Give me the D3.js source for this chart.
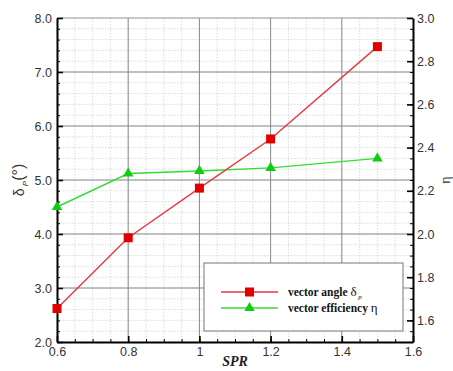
<!DOCTYPE html>
<html><head><meta charset="utf-8">
<script src="https://cdn.jsdelivr.net/npm/d3@7"></script>
<style>body{margin:0;background:#fff}svg{display:block}</style>
</head><body><svg id="c" width="453" height="371"></svg>
<script>
const spr = [0.6, 0.8, 1.0, 1.2, 1.5];
const vectorAngle = [2.62, 3.93, 4.85, 5.76, 7.47];
const vectorEfficiency = [2.125, 2.28, 2.292, 2.306, 2.35];
const xTicks = [0.6, 0.8, 1.0, 1.2, 1.4, 1.6];
const xTickLabels = ["0.6", "0.8", "1", "1.2", "1.4", "1.6"];
const leftTicks = [2, 3, 4, 5, 6, 7, 8];
const rightTicks = [1.6, 1.8, 2.0, 2.2, 2.4, 2.6, 2.8, 3.0];
const seriesNames = ["vector angle δ", "vector efficiency η"];

const svg = d3.select("#c");
const L = 57, R = 413, T = 18, B = 342;
const x = d3.scaleLinear().domain([0.6, 1.6]).range([L, R]);
const yL = d3.scaleLinear().domain([2, 8]).range([B, T]);
const yR = d3.scaleLinear().domain([1.5, 3.0]).range([B, T]);

const r = v => Math.round(v * 1000) / 1000;
const xMinor = d3.range(0.6, 1.6001, 0.05).map(r);
const yMinor = d3.range(2, 8.0001, 0.2).map(r);
const yRMinor = d3.range(1.5, 3.0001, 0.05).map(r);

const g = svg.append("g");
// minor grid
g.selectAll(".mgx").data(xMinor).join("line")
  .attr("x1", d => x(d)).attr("x2", d => x(d)).attr("y1", T).attr("y2", B)
  .attr("stroke", "#d2d2d2").attr("stroke-width", 0.8).attr("stroke-dasharray", "1.5,1.5");
g.selectAll(".mgy").data(yMinor).join("line")
  .attr("y1", d => yL(d)).attr("y2", d => yL(d)).attr("x1", L).attr("x2", R)
  .attr("stroke", "#d2d2d2").attr("stroke-width", 0.8).attr("stroke-dasharray", "1.5,1.5");
// major grid
g.selectAll(".gx").data(xTicks.slice(1, -1)).join("line")
  .attr("x1", d => x(d)).attr("x2", d => x(d)).attr("y1", T).attr("y2", B)
  .attr("stroke", "#8a8a8a").attr("stroke-width", 1);
g.selectAll(".gy").data(leftTicks.slice(1, -1)).join("line")
  .attr("y1", d => yL(d)).attr("y2", d => yL(d)).attr("x1", L).attr("x2", R)
  .attr("stroke", "#8a8a8a").attr("stroke-width", 1);
// top border
g.append("line").attr("x1", L).attr("x2", R).attr("y1", T).attr("y2", T)
  .attr("stroke", "#9a9a9a").attr("stroke-width", 1);

// axes
const axStyle = sel => {
  sel.select(".domain").attr("stroke", "#000").attr("stroke-width", 2);
  sel.selectAll(".tick line").attr("stroke", "#000").attr("stroke-width", 1.6);
  sel.selectAll("text").attr("font-family", "Liberation Sans, Arial, sans-serif")
    .attr("font-size", 12.5).attr("fill", "#333");
};
// minor tick axes (no labels)
svg.append("g").attr("transform", `translate(0,${B})`)
  .call(d3.axisBottom(x).tickValues(xMinor).tickSize(-3).tickFormat("").tickSizeOuter(0))
  .call(s => { s.select(".domain").remove(); s.selectAll("line").attr("stroke", "#000").attr("stroke-width", 1); });
svg.append("g").attr("transform", `translate(${L},0)`)
  .call(d3.axisLeft(yL).tickValues(yMinor).tickSize(-3).tickFormat("").tickSizeOuter(0))
  .call(s => { s.select(".domain").remove(); s.selectAll("line").attr("stroke", "#000").attr("stroke-width", 1); });
svg.append("g").attr("transform", `translate(${R},0)`)
  .call(d3.axisRight(yR).tickValues(yRMinor).tickSize(-3).tickFormat("").tickSizeOuter(0))
  .call(s => { s.select(".domain").remove(); s.selectAll("line").attr("stroke", "#000").attr("stroke-width", 1); });

svg.append("g").attr("transform", `translate(0,${B})`)
  .call(d3.axisBottom(x).tickValues(xTicks).tickSize(-6).tickSizeOuter(0)
    .tickFormat((d, i) => xTickLabels[i]).tickPadding(5))
  .call(axStyle);
svg.append("g").attr("transform", `translate(${L},0)`)
  .call(d3.axisLeft(yL).tickValues(leftTicks).tickSize(-6).tickSizeOuter(0)
    .tickFormat(d3.format(".1f")).tickPadding(5))
  .call(axStyle);
svg.append("g").attr("transform", `translate(${R},0)`)
  .call(d3.axisRight(yR).tickValues(rightTicks).tickSize(-6).tickSizeOuter(0)
    .tickFormat(d3.format(".1f")).tickPadding(4))
  .call(axStyle);

// lines
const red = "#e8393f", redM = "#e00000", green = "#33dd33", greenM = "#11cc11";
const lineL = d3.line().x((d, i) => x(spr[i])).y(d => yL(d));
const lineR = d3.line().x((d, i) => x(spr[i])).y(d => yR(d));
svg.append("path").datum(vectorEfficiency).attr("d", lineR)
  .attr("fill", "none").attr("stroke", green).attr("stroke-width", 1.4);
svg.append("path").datum(vectorAngle).attr("d", lineL)
  .attr("fill", "none").attr("stroke", red).attr("stroke-width", 1.4);
const tri = d3.symbol().type(d3.symbolTriangle).size(48);
svg.selectAll(".gm").data(vectorEfficiency).join("path")
  .attr("d", tri).attr("transform", (d, i) => `translate(${x(spr[i])},${yR(d)})`)
  .attr("fill", greenM);
svg.selectAll(".rm").data(vectorAngle).join("rect")
  .attr("x", (d, i) => x(spr[i]) - 4.5).attr("y", d => yL(d) - 4.5)
  .attr("width", 9).attr("height", 9).attr("fill", redM);

// legend
const lg = svg.append("g");
lg.append("rect").attr("x", 204).attr("y", 263).attr("width", 199).attr("height", 68)
  .attr("fill", "#fff").attr("stroke", "#777").attr("stroke-width", 1);
const rows = [{c: red, m: "sq", y: 292}, {c: green, m: "tri", y: 308}];
rows.forEach((rw, i) => {
  lg.append("line").attr("x1", 221).attr("x2", 278).attr("y1", rw.y).attr("y2", rw.y)
    .attr("stroke", rw.c).attr("stroke-width", 1.4);
  if (rw.m === "sq") lg.append("rect").attr("x", 245).attr("y", rw.y - 4.5).attr("width", 9).attr("height", 9).attr("fill", redM);
  else lg.append("path").attr("d", tri).attr("transform", `translate(249.5,${rw.y})`).attr("fill", greenM);
});
const lt1 = lg.append("text").attr("x", 288).attr("y", 296)
  .attr("font-family", "Liberation Serif, Times New Roman, serif").attr("font-size", 11.5).attr("fill", "#111");
lt1.append("tspan").attr("font-weight", "bold").text("vector angle ");
lt1.append("tspan").attr("font-size", 13).text("δ");
lt1.append("tspan").attr("font-size", 7).attr("dy", 3).attr("font-style", "italic").text(" p");
const lt2 = lg.append("text").attr("x", 288).attr("y", 312)
  .attr("font-family", "Liberation Serif, Times New Roman, serif").attr("font-size", 11.5).attr("fill", "#111");
lt2.append("tspan").attr("font-weight", "bold").text("vector efficiency ");
lt2.append("tspan").attr("font-size", 13).text("η");

// axis titles
svg.append("text").attr("x", x(1.1)).attr("y", 366).attr("text-anchor", "middle")
  .attr("font-family", "Liberation Serif, Times New Roman, serif").attr("font-size", 14)
  .attr("font-weight", "bold").attr("font-style", "italic").attr("fill", "#222").text("SPR");
const yt = svg.append("text").attr("transform", "translate(24,180) rotate(-90)").attr("text-anchor", "middle")
  .attr("font-family", "Liberation Sans, Arial, sans-serif").attr("font-size", 14).attr("fill", "#333");
yt.append("tspan").text("δ");
yt.append("tspan").attr("font-size", 8).attr("dy", 4).attr("font-style", "italic").text(" P");
yt.append("tspan").attr("dy", -4).attr("font-size", 16).text("(°)");
svg.append("text").attr("transform", "translate(450,180) rotate(-90)").attr("text-anchor", "middle")
  .attr("font-family", "Liberation Serif, Times New Roman, serif").attr("font-size", 14).attr("fill", "#333").text("η");
</script></body></html>
